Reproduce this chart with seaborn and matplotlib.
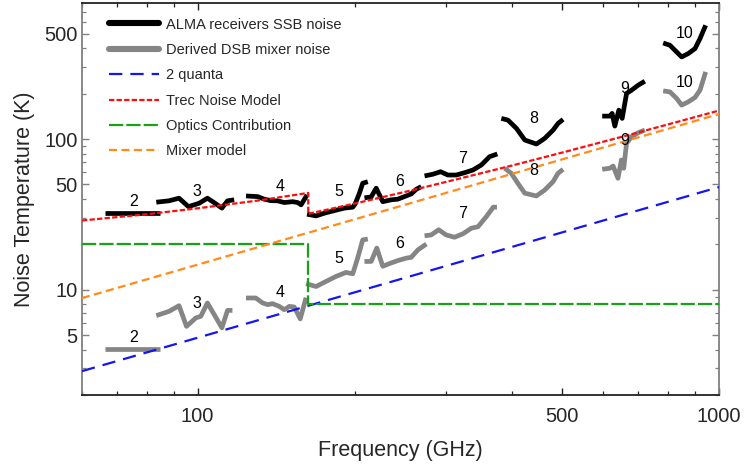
import numpy as np
import pandas as pd
import matplotlib
matplotlib.use("Agg")
import matplotlib.pyplot as plt
from matplotlib.lines import Line2D
from matplotlib.ticker import FixedLocator, NullFormatter
import seaborn as sns

# ---------------- data ----------------
bands = ["2", "3", "4", "5", "6", "7", "8", "9", "10"]

ssb_freq = {
    "2": [66.3, 75.0, 84.7],
    "3": [83.3, 88.1, 92.1, 96.0, 100.7, 104.4, 107.6, 111.3, 114.1, 117.5],
    "4": [123.8, 130.3, 134.2, 138.2, 142.3, 146.6, 152.1, 155.5, 157.9, 161.4, 162.1],
    "5": [162.1, 168.7, 175.0, 182.9, 191.2, 198.4, 200.5, 204.3, 207.3, 212.0],
    "6": [208.9, 215.2, 220.0, 226.5, 235.0, 242.0, 249.3, 256.8, 262.6, 268.5],
    "7": [272.4, 282.5, 292.4, 301.9, 313.3, 325.1, 337.3, 350.1, 363.1, 375.7],
    "8": [382.4, 393.7, 408.7, 424.1, 446.5, 463.2, 480.6, 491.3, 502.3],
    "9": [597.0, 617.5, 623.7, 631.2, 642.5, 652.0, 664.8, 679.6, 699.8, 720.7],
    "10": [781.6, 805.2, 829.4, 848.0, 873.1, 899.4, 919.5, 942.8],
}
ssb_temp = {
    "2": [32.2, 32.2, 32.2],
    "3": [38.1, 38.9, 40.5, 35.6, 37.5, 40.5, 37.8, 34.8, 38.9, 39.5],
    "4": [41.9, 41.5, 39.9, 39.0, 38.9, 37.9, 38.4, 37.9, 36.6, 41.5, 42.6],
    "5": [31.7, 30.9, 32.2, 33.5, 34.8, 35.3, 37.1, 43.7, 50.9, 52.1],
    "6": [40.7, 41.3, 47.2, 38.4, 39.5, 39.9, 41.5, 43.2, 46.4, 48.3],
    "7": [56.9, 58.4, 60.7, 57.7, 57.7, 59.8, 62.3, 67.3, 76.4, 79.6],
    "8": [137.1, 133.6, 117.8, 98.5, 92.7, 101.1, 114.7, 127.0, 135.0],
    "9": [142.0, 142.0, 148.0, 121.9, 155.6, 137.1, 200.7, 211.1, 227.8, 242.1],
    "10": [434.3, 419.4, 378.4, 350.8, 369.4, 398.4, 464.2, 568.9],
}
dsb_freq = {
    "2": [66.3, 75.0, 84.7],
    "3": [83.3, 88.1, 92.1, 95.2, 99.2, 101.4, 104.4, 107.6, 111.3, 114.1, 116.6],
    "4": [123.8, 129.3, 133.2, 136.2, 139.2, 143.4, 146.6, 149.9, 153.2, 157.3, 159.4, 161.4],
    "5": [161.4, 168.7, 176.3, 184.2, 192.5, 198.4, 202.7, 207.3, 212.0],
    "6": [208.9, 215.2, 220.6, 226.5, 233.2, 242.0, 251.2, 256.8, 264.6, 274.6],
    "7": [272.4, 280.5, 290.0, 299.6, 311.0, 322.7, 335.0, 345.0, 358.0, 369.0, 375.0],
    "8": [388.0, 399.5, 411.2, 424.1, 446.5, 463.2, 480.6, 491.3, 502.3],
    "9": [597.0, 617.5, 626.5, 640.0, 649.8, 656.5, 664.8, 679.6, 699.8, 720.7],
    "10": [781.6, 805.2, 829.4, 848.0, 873.1, 899.4, 919.5, 942.8],
}
dsb_temp = {
    "2": [4.03, 4.03, 4.03],
    "3": [6.73, 7.18, 7.83, 5.71, 6.50, 6.66, 8.16, 6.83, 5.58, 7.29, 7.29],
    "4": [8.81, 8.81, 8.17, 7.96, 8.08, 7.75, 7.37, 7.75, 7.68, 6.40, 7.56, 8.85],
    "5": [10.96, 10.5, 11.35, 12.25, 13.02, 12.76, 16.2, 21.4, 21.7],
    "6": [15.4, 15.4, 18.9, 14.3, 14.9, 15.6, 16.2, 16.4, 18.4, 20.1],
    "7": [22.8, 23.1, 25.0, 23.1, 22.3, 23.5, 25.6, 26.2, 30.6, 35.3, 35.3],
    "8": [64.0, 59.3, 50.9, 43.7, 41.9, 45.9, 52.2, 59.3, 63.0],
    "9": [63.0, 64.0, 66.2, 54.9, 72.6, 64.0, 93.7, 103.6, 110.1, 114.7],
    "10": [208.9, 205.7, 186.1, 168.0, 176.6, 188.8, 211.1, 279.1],
}

# model curves
quanta_freq = [60, 1000]
quanta_temp = [2.88, 48.0]
mixer_freq = [60, 1000]
mixer_temp = [8.8, 146.5]
optics_freq = [60, 163, 163, 1000]
optics_temp = [20.0, 20.0, 8.0, 8.0]
trec_freq = [60, 80, 100, 130, 163, 163, 200, 250, 300, 400, 500, 700, 1000]
trec_temp = [28.8, 31.7, 34.7, 39.0, 43.9, 31.9, 37.3, 44.6, 52.0, 66.6, 81.3, 110.6, 154.5]

# band-number label positions
label_freq = [75.2, 99.8, 144.0, 186.2, 243.8, 322.3, 441.2, 659.8, 860.4]
label_ssb_temp = [38.3, 45.2, 48.1, 44.6, 51.9, 74.8, 137.7, 217.6, 503.6]
label_dsb_temp = [4.79, 8.16, 9.6, 16.2, 20.2, 32.2, 62.3, 98.5, 236.0]

# ---------------- build tables ----------------
rows = []
for b in bands:
    for f, t in zip(ssb_freq[b], ssb_temp[b]):
        rows.append(dict(band=b, kind="ssb", freq=f, temp=t))
    for f, t in zip(dsb_freq[b], dsb_temp[b]):
        rows.append(dict(band=b, kind="dsb", freq=f, temp=t))
df = pd.DataFrame(rows)

sns.set_style("ticks")
plt.rcParams["font.family"] = ["Liberation Sans", "DejaVu Sans"]

fig = plt.figure(figsize=(7.45, 4.70), dpi=100)
ax = fig.add_axes([82 / 745, 75 / 470, 637 / 745, 392 / 470])
ax.set_xscale("log")
ax.set_yscale("log")

C_GRAY = "#858585"
C_BLUE = "#1515f0"
C_RED = "#ff0d0d"
C_GREEN = "#16a316"
C_ORANGE = "#ff8c1a"

LW_DATA = 3.4
LW_MODEL = 1.6

sns.lineplot(data=df[df.kind == "ssb"], x="freq", y="temp", units="band",
             estimator=None, sort=False, color="black", lw=LW_DATA,
             solid_capstyle="butt", ax=ax, zorder=2)
sns.lineplot(data=df[df.kind == "dsb"], x="freq", y="temp", units="band",
             estimator=None, sort=False, color=C_GRAY, lw=LW_DATA,
             solid_capstyle="butt", ax=ax, zorder=2)

model_styles = [
    (quanta_freq, quanta_temp, C_BLUE, (6.0, 3.6), "2 quanta"),
    (trec_freq, trec_temp, C_RED, (2.4, 1.0), "Trec Noise Model"),
    (optics_freq, optics_temp, C_GREEN, (6.4, 1.4), "Optics Contribution"),
    (mixer_freq, mixer_temp, C_ORANGE, (3.6, 2.0), "Mixer model"),
]
for fx, ty, col, dash, _ in model_styles:
    sns.lineplot(x=fx, y=ty, sort=False, estimator=None, color=col,
                 lw=LW_MODEL, dashes=False, ax=ax, zorder=3)
    ax.lines[-1].set_dashes(dash)

for b, lf, ls, ld in zip(bands, label_freq, label_ssb_temp, label_dsb_temp):
    ax.text(lf, ls, b, ha="center", va="center", fontsize=11.5, color="black", zorder=4)
    ax.text(lf, ld, b, ha="center", va="center", fontsize=11.5, color="black", zorder=4)

ax.set_xlim(60, 1000)
ax.set_ylim(2, 800)

# ticks
xmaj = [100, 500, 1000]
xmin = [60, 70, 80, 90, 200, 300, 400, 600, 700, 800, 900]
ymaj = [5, 10, 50, 100, 500]
ymin = [2, 3, 4, 6, 7, 8, 9, 20, 30, 40, 60, 70, 80, 90, 200, 300, 400, 600, 700]
ax.xaxis.set_major_locator(FixedLocator(xmaj))
ax.xaxis.set_minor_locator(FixedLocator(xmin))
ax.yaxis.set_major_locator(FixedLocator(ymaj))
ax.yaxis.set_minor_locator(FixedLocator(ymin))
ax.set_xticklabels([str(v) for v in xmaj])
ax.set_yticklabels([str(v) for v in ymaj])
ax.xaxis.set_minor_formatter(NullFormatter())
ax.yaxis.set_minor_formatter(NullFormatter())

ax.tick_params(axis="both", which="both", direction="in", top=True, right=True)
ax.tick_params(axis="both", which="major", length=5, width=1.0, labelsize=14.5)
ax.tick_params(axis="both", which="minor", length=3, width=0.9)
ax.tick_params(axis="x", which="both", color="#222222", pad=8.5)
ax.tick_params(axis="y", which="both", color="#808080", pad=3)

for side in ["left", "right"]:
    ax.spines[side].set_color("#808080")
    ax.spines[side].set_linewidth(1.3)
for side in ["top", "bottom"]:
    ax.spines[side].set_color("#222222")
    ax.spines[side].set_linewidth(1.3)

ax.set_xlabel("Frequency (GHz)", fontsize=15.5, labelpad=10.5)
ax.set_ylabel("Noise Temperature (K)", fontsize=15.5, labelpad=7)

handles = [
    Line2D([], [], color="black", lw=LW_DATA + 1),
    Line2D([], [], color=C_GRAY, lw=LW_DATA + 1),
]
labels = ["ALMA receivers SSB noise", "Derived DSB mixer noise"]
for _, _, col, dash, lab in model_styles:
    h = Line2D([], [], color=col, lw=LW_MODEL)
    h.set_dashes(dash)
    handles.append(h)
    labels.append(lab)

ax.legend(handles, labels, loc="upper left", bbox_to_anchor=(0.02, 1.0),
          frameon=False, fontsize=10.5, handlelength=3.4, handletextpad=0.5,
          labelspacing=0.78, borderaxespad=0.6)

fig.savefig("out.png", dpi=100)
